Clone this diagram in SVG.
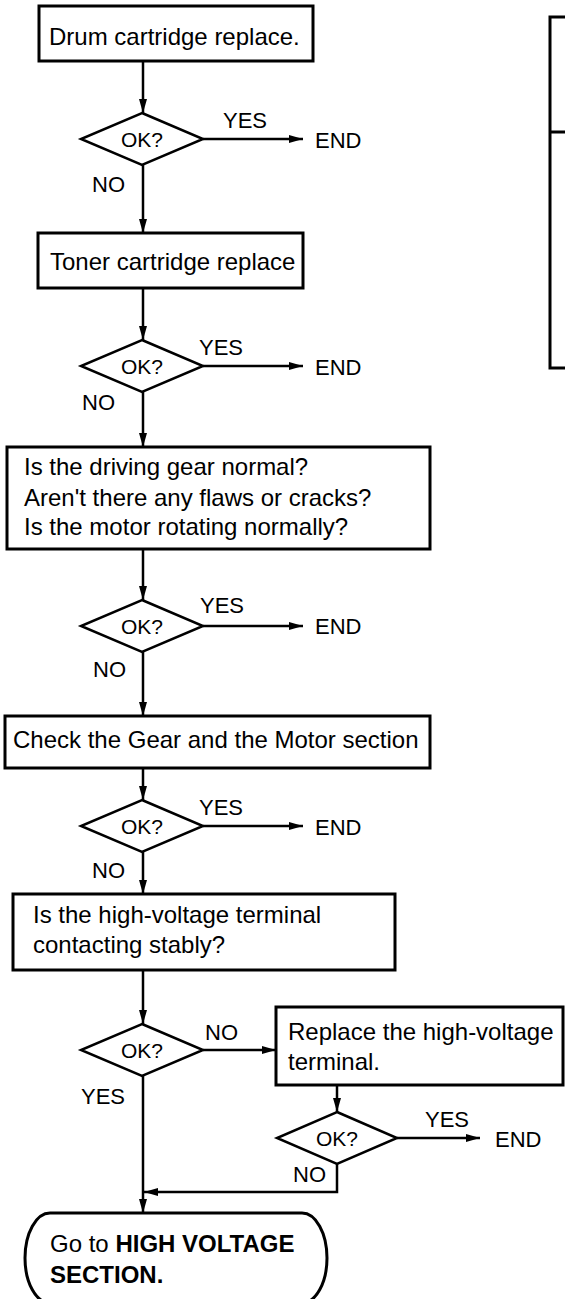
<svg xmlns="http://www.w3.org/2000/svg" width="565" height="1299" viewBox="0 0 565 1299">
<style>
  .box { fill: #fff; stroke: #000; stroke-width: 3; }
  .dia { fill: #fff; stroke: #000; stroke-width: 2.5; }
  .con { fill: none; stroke: #000; stroke-width: 2.5; marker-end: url(#ah); }
  .t { font-family: "Liberation Sans", Arial, sans-serif; font-size: 24px; fill: #000; }
  .lbl { font-family: "Liberation Sans", Arial, sans-serif; font-size: 22px; fill: #000; }
  .ok { font-family: "Liberation Sans", Arial, sans-serif; font-size: 21px; fill: #000; text-anchor: middle; }
  .b { font-weight: bold; }
</style>
<defs>
  <marker id="ah" markerUnits="userSpaceOnUse" markerWidth="14" markerHeight="8" refX="14" refY="4" orient="auto">
    <path d="M0,0 L14,4 L0,8 z" fill="#000"/>
  </marker>
</defs>
<rect width="565" height="1299" fill="#fff"/>

<g id="legend-box">
  <rect x="550" y="17" width="60" height="351" class="box"/>
  <line x1="550" y1="132" x2="610" y2="132" stroke="#000" stroke-width="3"/>
</g>

<g id="connectors">
  <line x1="143" y1="61" x2="143" y2="113" class="con"/>
  <line x1="203" y1="139" x2="303" y2="139" class="con"/>
  <line x1="143" y1="165" x2="143" y2="233" class="con"/>
  <line x1="143" y1="288" x2="143" y2="340" class="con"/>
  <line x1="203" y1="366" x2="303" y2="366" class="con"/>
  <line x1="143" y1="392" x2="143" y2="447" class="con"/>
  <line x1="143" y1="549" x2="143" y2="600" class="con"/>
  <line x1="203" y1="626" x2="303" y2="626" class="con"/>
  <line x1="143" y1="652" x2="143" y2="716" class="con"/>
  <line x1="143" y1="768" x2="143" y2="800" class="con"/>
  <line x1="203" y1="826" x2="303" y2="826" class="con"/>
  <line x1="143" y1="852" x2="143" y2="894" class="con"/>
  <line x1="143" y1="970" x2="143" y2="1024" class="con"/>
  <line x1="203" y1="1050" x2="276" y2="1050" class="con"/>
  <line x1="143" y1="1076" x2="143" y2="1213" class="con"/>
  <line x1="337" y1="1085" x2="337" y2="1112" class="con"/>
  <line x1="397" y1="1138" x2="480" y2="1138" class="con"/>
  <path d="M337,1164 V1192 H144" class="con"/>
</g>

<g id="n1">
  <rect x="39" y="6" width="274" height="55" class="box"/>
  <text x="49" y="45" class="t">Drum cartridge replace.</text>
</g>
<g id="d1">
  <polygon points="142,113 203,139 142,165 81,139" class="dia"/>
  <text x="142" y="147" class="ok">OK?</text>
  <text x="223" y="128" class="lbl">YES</text>
  <text x="315" y="148" class="lbl">END</text>
  <text x="92" y="192" class="lbl">NO</text>
</g>
<g id="n2">
  <rect x="38" y="233" width="265" height="55" class="box"/>
  <text x="50" y="270" class="t">Toner cartridge replace</text>
</g>
<g id="d2">
  <polygon points="142,340 203,366 142,392 81,366" class="dia"/>
  <text x="142" y="374" class="ok">OK?</text>
  <text x="199" y="355" class="lbl">YES</text>
  <text x="315" y="375" class="lbl">END</text>
  <text x="82" y="410" class="lbl">NO</text>
</g>
<g id="n3">
  <rect x="7" y="447" width="423" height="102" class="box"/>
  <text x="24" y="475" class="t">Is the driving gear normal?</text>
  <text x="24" y="506" class="t">Aren't there any flaws or cracks?</text>
  <text x="24" y="535" class="t">Is the motor rotating normally?</text>
</g>
<g id="d3">
  <polygon points="142,600 203,626 142,652 81,626" class="dia"/>
  <text x="142" y="634" class="ok">OK?</text>
  <text x="200" y="613" class="lbl">YES</text>
  <text x="315" y="634" class="lbl">END</text>
  <text x="93" y="677" class="lbl">NO</text>
</g>
<g id="n4">
  <rect x="5" y="716" width="425" height="52" class="box"/>
  <text x="13" y="748" class="t">Check the Gear and the Motor section</text>
</g>
<g id="d4">
  <polygon points="142,800 203,826 142,852 81,826" class="dia"/>
  <text x="142" y="834" class="ok">OK?</text>
  <text x="199" y="815" class="lbl">YES</text>
  <text x="315" y="835" class="lbl">END</text>
  <text x="92" y="878" class="lbl">NO</text>
</g>
<g id="n5">
  <rect x="13" y="894" width="382" height="76" class="box"/>
  <text x="33" y="923" class="t">Is the high-voltage terminal</text>
  <text x="33" y="953" class="t">contacting stably?</text>
</g>
<g id="d5">
  <polygon points="142,1024 203,1050 142,1076 81,1050" class="dia"/>
  <text x="142" y="1058" class="ok">OK?</text>
  <text x="205" y="1040" class="lbl">NO</text>
  <text x="81" y="1104" class="lbl">YES</text>
</g>
<g id="n6">
  <rect x="276" y="1007" width="287" height="78" class="box"/>
  <text x="288" y="1040" class="t">Replace the high-voltage</text>
  <text x="288" y="1070" class="t">terminal.</text>
</g>
<g id="d7">
  <polygon points="337,1112 397,1138 337,1164 277,1138" class="dia"/>
  <text x="337" y="1146" class="ok">OK?</text>
  <text x="425" y="1127" class="lbl">YES</text>
  <text x="495" y="1147" class="lbl">END</text>
  <text x="293" y="1182" class="lbl">NO</text>
</g>
<g id="n8">
  <rect x="25" y="1213" width="302" height="90" rx="25" ry="45" class="box" stroke-width="2.5"/>
  <text x="50" y="1252" class="t">Go to <tspan class="b">HIGH VOLTAGE</tspan></text>
  <text x="50" y="1283" class="t b">SECTION.</text>
</g>
</svg>
